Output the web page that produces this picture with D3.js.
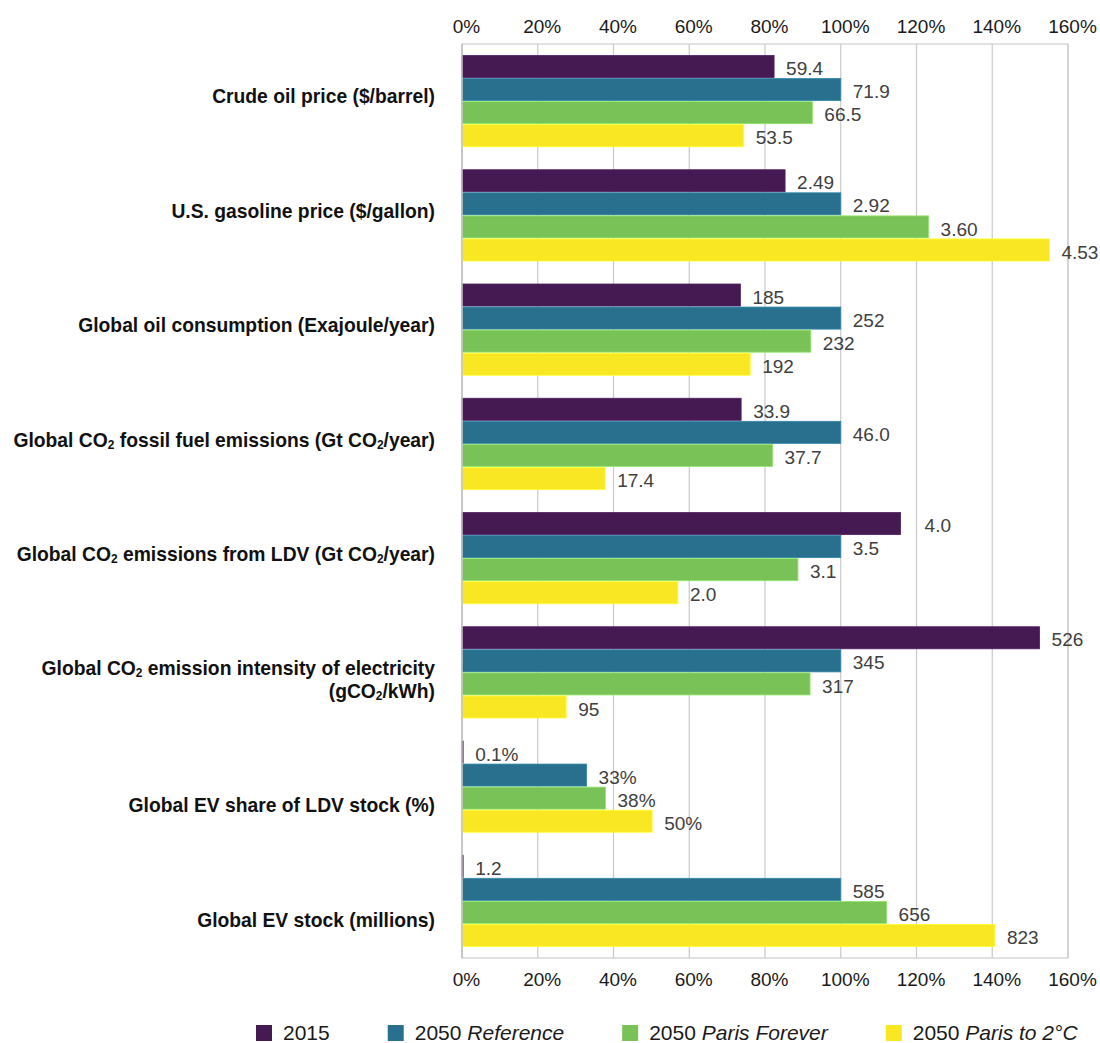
<!DOCTYPE html>
<html>
<head>
<meta charset="utf-8">
<script src="https://cdn.jsdelivr.net/npm/d3@7"></script>
<style>
  html, body { margin: 0; padding: 0; background: #fff; }
  svg { display: block; font-family: "Liberation Sans", Arial, sans-serif; }
</style>
</head>
<body>
<svg id="chart" width="1100" height="1043"></svg>
<script>
// ---------------- DATA ----------------
const categories = [
  "Crude oil price ($/barrel)",
  "U.S. gasoline price ($/gallon)",
  "Global oil consumption (Exajoule/year)",
  "Global CO₂ fossil fuel emissions (Gt CO₂/year)",
  "Global CO₂ emissions from LDV (Gt CO₂/year)",
  "Global CO₂ emission intensity of electricity\n(gCO₂/kWh)",
  "Global EV share of LDV stock (%)",
  "Global EV stock (millions)"
];
const seriesNames = ["2015", "2050 Reference", "2050 Paris Forever", "2050 Paris to 2°C"];
// bar lengths (% of 2050 Reference, EV share as actual %)
const pct2015    = [82.4, 85.3, 73.5, 73.7, 115.8, 152.5, 0.3, 0.3];
const pctRef     = [100, 100, 100, 100, 100, 100, 32.9, 100];
const pctForever = [92.5, 123.2, 92.1, 82.0, 88.7, 91.9, 37.9, 112.1];
const pctParis   = [74.4, 155.1, 76.1, 37.8, 57.0, 27.5, 50.2, 140.7];
// value labels shown at bar ends
const lab2015    = ["59.4", "2.49", "185", "33.9", "4.0", "526", "0.1%", "1.2"];
const labRef     = ["71.9", "2.92", "252", "46.0", "3.5", "345", "33%", "585"];
const labForever = ["66.5", "3.60", "232", "37.7", "3.1", "317", "38%", "656"];
const labParis   = ["53.5", "4.53", "192", "17.4", "2.0", "95", "50%", "823"];
const tickValues = [0, 20, 40, 60, 80, 100, 120, 140, 160];

// ---------------- LAYOUT / STYLE ----------------
const colors = ["#451a53", "#28708d", "#79c257", "#f9e724"];
const plot = { left: 462, right: 1068, top: 44, bottom: 958 };
const labelShift = [-5, -4, -4.5, -4, -4, 7.5, 19, 19];
const valueLabelExtraDx = { "0-4": 12 }; // series-category

const series = [
  { name: seriesNames[0], pct: pct2015, lab: lab2015 },
  { name: seriesNames[1], pct: pctRef, lab: labRef },
  { name: seriesNames[2], pct: pctForever, lab: labForever },
  { name: seriesNames[3], pct: pctParis, lab: labParis }
];

const svg = d3.select("#chart");

const x = d3.scaleLinear().domain([0, 160]).range([plot.left, plot.right]);
const y = d3.scaleBand().domain(d3.range(categories.length)).range([plot.top, plot.bottom]).paddingInner(0).paddingOuter(0);
const inner = d3.scaleBand().domain(d3.range(series.length)).range([11, y.bandwidth() - 11]);

// gridlines
svg.append("g").selectAll("line").data(tickValues).join("line")
  .attr("x1", d => x(d)).attr("x2", d => x(d))
  .attr("y1", plot.top).attr("y2", plot.bottom)
  .attr("stroke", "#c9c9c9").attr("stroke-width", 1.2);
// frame
svg.append("rect").attr("x", plot.left).attr("y", plot.top)
  .attr("width", plot.right - plot.left).attr("height", plot.bottom - plot.top)
  .attr("fill", "none").attr("stroke", "#cdcdcd").attr("stroke-width", 1.2);

// bars
const groups = svg.append("g").selectAll("g").data(categories).join("g")
  .attr("transform", (d, i) => `translate(0,${y(i)})`);

series.forEach((s, si) => {
  groups.append("rect")
    .attr("x", x(0))
    .attr("y", inner(si) + 0.5)
    .attr("width", (d, i) => Math.max(x(s.pct[i]) - x(0), 1))
    .attr("height", inner.bandwidth() - 1)
    .attr("fill", colors[si])
    .attr("stroke", d3.color(colors[si]).brighter(0.5))
    .attr("stroke-width", 0.8);
  groups.append("text")
    .attr("x", (d, i) => x(s.pct[i]) + 12 + (valueLabelExtraDx[si + "-" + i] || 0))
    .attr("y", inner(si) + inner.bandwidth() / 2 + 2)
    .attr("dy", "0.35em")
    .attr("font-size", 19)
    .attr("fill", "#404040")
    .text((d, i) => s.lab[i]);
});

// left axis line
svg.append("line").attr("x1", x(0)).attr("x2", x(0))
  .attr("y1", plot.top).attr("y2", plot.bottom)
  .attr("stroke", "#c4c4c4").attr("stroke-width", 1.5);

// category labels with subscript 2
function addRich(textSel, str) {
  const parts = str.split("₂");
  parts.forEach((p, k) => {
    if (k > 0) {
      textSel.append("tspan").attr("font-size", "0.62em").attr("dy", 2).text("2");
      textSel.append("tspan").attr("dy", -2).text(p);
    } else {
      textSel.append("tspan").text(p);
    }
  });
}
categories.forEach((c, i) => {
  const lines = c.split("\n");
  const cy = y(i) + y.bandwidth() / 2 + labelShift[i];
  const lh = 23;
  lines.forEach((ln, li) => {
    const t = svg.append("text")
      .attr("x", 435)
      .attr("y", cy + (li - (lines.length - 1) / 2) * lh)
      .attr("dy", "0.35em")
      .attr("text-anchor", "end")
      .attr("font-size", 19.3)
      .attr("font-weight", "bold")
      .attr("fill", "#111");
    addRich(t, ln);
  });
});

// axes
const fmt = d => d + "%";
const topAxis = svg.append("g").attr("transform", `translate(4,${plot.top})`)
  .call(d3.axisTop(x).tickValues(tickValues).tickFormat(fmt).tickSize(0).tickPadding(11));
const botAxis = svg.append("g").attr("transform", `translate(4,${plot.bottom})`)
  .call(d3.axisBottom(x).tickValues(tickValues).tickFormat(fmt).tickSize(0).tickPadding(15));
[topAxis, botAxis].forEach(a => {
  a.select(".domain").remove();
  a.selectAll("text").attr("font-size", 19).attr("fill", "#1a1a1a")
    .attr("font-family", "Liberation Sans, Arial, sans-serif");
});

// legend
const legend = svg.append("g").attr("transform", "translate(256,1033)");
let lx = 0;
seriesNames.forEach((n, i) => {
  const g = legend.append("g").attr("transform", `translate(${lx},0)`);
  g.append("rect").attr("x", 0).attr("y", -8).attr("width", 16).attr("height", 16).attr("fill", colors[i]);
  const t = g.append("text").attr("x", 27).attr("y", 0).attr("dy", "0.35em")
    .attr("font-size", 21).attr("fill", "#1a1a1a");
  const sp = n.indexOf(" ");
  if (sp < 0) {
    t.text(n);
  } else {
    t.append("tspan").text(n.slice(0, sp + 1));
    t.append("tspan").attr("font-style", "italic").text(n.slice(sp + 1));
  }
  lx += 27 + t.node().getComputedTextLength() + 58;
});
</script>
</body>
</html>
